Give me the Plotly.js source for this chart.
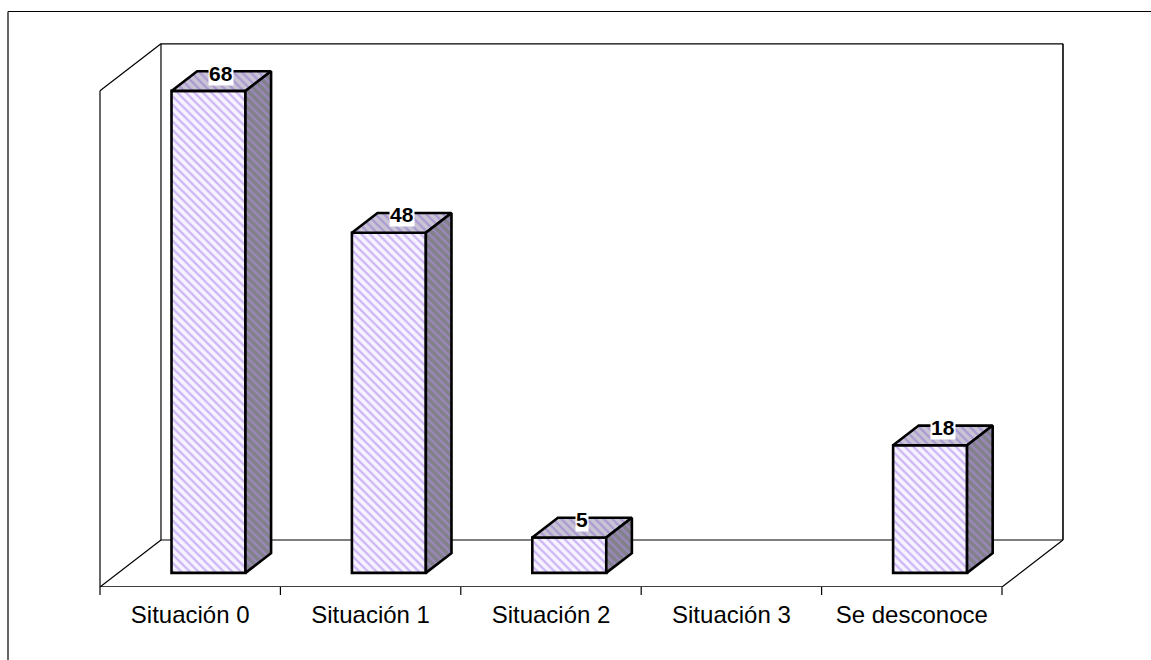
<!DOCTYPE html>
<html>
<head>
<meta charset="utf-8">
<script src="https://cdn.plot.ly/plotly-3.0.1.min.js"></script>
<style>
  html, body { margin: 0; padding: 0; background: #ffffff; }
  #chart { width: 1151px; height: 660px; }
</style>
</head>
<body>
<div id="chart"></div>
<script>
// ---- Data ----
const categories = ['Situación 0', 'Situación 1', 'Situación 2', 'Situación 3', 'Se desconoce'];
const values = [68, 48, 5, 0, 18];
const axisMax = 70;

// ---- 3D projection constants (in axis units) ----
const FLOOR_DX = 0.338;   // depth shift along x (category units)
const FLOOR_DY = 6.63;    // depth shift along y (value units)
const BAR_FRONT = 0.30;   // bar front position as fraction of floor depth
const BAR_BACK = 0.72;    // bar back position as fraction of floor depth
const BAR_W = 0.41;       // bar width (category units)

const frontShiftX = BAR_FRONT * FLOOR_DX;
const frontBase = BAR_FRONT * FLOOR_DY;
const barDX = (BAR_BACK - BAR_FRONT) * FLOOR_DX;
const barDY = (BAR_BACK - BAR_FRONT) * FLOOR_DY;

const idx = categories.map((c, i) => i);

// Front faces as a bar trace
const frontTrace = {
  type: 'bar',
  x: idx,
  y: values,
  base: values.map(() => frontBase),
  width: BAR_W,
  offset: frontShiftX - BAR_W / 2,
  marker: {
    color: '#f8f4ff',
    pattern: { shape: '\\', fgcolor: '#cdb6f6', bgcolor: '#f8f4ff', size: 6, solidity: 0.38, fillmode: 'replace' },
    line: { color: '#000000', width: values.map(v => v > 0 ? 2.6 : 0) }
  },
  hoverinfo: 'skip',
  showlegend: false
};

// Top and side faces as filled polygons
const topX = [], topY = [], sideX = [], sideY = [];
values.forEach((v, i) => {
  if (!(v > 0)) return;
  const x0 = i + frontShiftX - BAR_W / 2;
  const x1 = x0 + BAR_W;
  const y0 = frontBase;
  const y1 = frontBase + v;
  topX.push(x0, x1, x1 + barDX, x0 + barDX, x0, null);
  topY.push(y1, y1, y1 + barDY, y1 + barDY, y1, null);
  sideX.push(x1, x1 + barDX, x1 + barDX, x1, x1, null);
  sideY.push(y0, y0 + barDY, y1 + barDY, y1, y0, null);
});

const topTrace = {
  type: 'scatter', mode: 'lines', x: topX, y: topY, fill: 'toself',
  fillcolor: '#c9c5d4',
  fillpattern: { shape: '\\', fgcolor: '#ab9ad2', bgcolor: '#c9c5d4', size: 6, solidity: 0.38, fillmode: 'replace' },
  line: { color: '#000000', width: 2.6 },
  hoverinfo: 'skip', showlegend: false
};
const sideTrace = {
  type: 'scatter', mode: 'lines', x: sideX, y: sideY, fill: 'toself',
  fillcolor: '#828189',
  fillpattern: { shape: '\\', fgcolor: '#9a88bd', bgcolor: '#828189', size: 6, solidity: 0.38, fillmode: 'replace' },
  line: { color: '#000000', width: 2.6 },
  hoverinfo: 'skip', showlegend: false
};

// Walls & floor as shapes below traces
const L = -0.5, R = categories.length - 0.5;
const seg = (x0, y0, x1, y1, w) => ({
  type: 'line', xref: 'x', yref: 'y', x0, y0, x1, y1, layer: 'below',
  line: { color: '#000000', width: w || 1.2 }
});
const shapes = [
  // back wall
  seg(L + FLOOR_DX, FLOOR_DY, R + FLOOR_DX, FLOOR_DY),
  seg(L + FLOOR_DX, FLOOR_DY, L + FLOOR_DX, FLOOR_DY + axisMax),
  seg(L + FLOOR_DX, FLOOR_DY + axisMax, R + FLOOR_DX, FLOOR_DY + axisMax),
  seg(R + FLOOR_DX, FLOOR_DY, R + FLOOR_DX, FLOOR_DY + axisMax, 1.6),
  // side wall
  seg(L, 0, L, axisMax),
  seg(L, axisMax, L + FLOOR_DX, FLOOR_DY + axisMax),
  seg(L, 0, L + FLOOR_DX, FLOOR_DY),
  // floor
  seg(L, 0, R, 0, 1.6),
  seg(R, 0, R + FLOOR_DX, FLOOR_DY),
  // outer frame (top and left edge)
  { type: 'line', xref: 'paper', yref: 'paper', x0: 8 / 1151, x1: 1, y0: 1 - 11.5 / 587, y1: 1 - 11.5 / 587, line: { color: '#000', width: 1.2 } },
  { type: 'line', xref: 'paper', yref: 'paper', x0: 8 / 1151, x1: 8 / 1151, y0: 1 - 11.5 / 587, y1: -73 / 587, line: { color: '#000', width: 1.2 } }
];
// category boundary ticks below the floor's front edge
idx.concat([categories.length]).forEach(i => {
  shapes.push({
    type: 'line', xref: 'x', yref: 'paper', x0: i - 0.5, x1: i - 0.5, y0: 0, y1: -8 / 587,
    line: { color: '#000000', width: 1.2 }
  });
});

// Value labels
const annotations = [];
values.forEach((v, i) => {
  if (!(v > 0)) return;
  annotations.push({
    x: i + frontShiftX + barDX / 2,
    y: frontBase + v + barDY,
    xref: 'x', yref: 'y',
    text: '<b>' + v + '</b>',
    showarrow: false,
    xanchor: 'center', yanchor: 'middle', yshift: -2,
    bgcolor: '#ffffff', borderpad: 0,
    font: { family: 'Arial, "Liberation Sans", sans-serif', size: 21, color: '#000000' }
  });
});

const pxPerCat = 180.4;
const layout = {
  width: 1151, height: 660,
  margin: { l: 0, r: 0, t: 0, b: 73, pad: 0 },
  paper_bgcolor: '#ffffff', plot_bgcolor: 'rgba(0,0,0,0)',
  showlegend: false,
  barmode: 'overlay',
  xaxis: {
    type: 'linear',
    range: [-0.5 - 100 / pxPerCat, -0.5 + (1151 - 100) / pxPerCat],
    tickvals: idx,
    ticktext: categories,
    ticks: '', ticklen: 0,
    ticklabelstandoff: 11,
    tickfont: { family: 'Arial, "Liberation Sans", sans-serif', size: 24, color: '#000000' },
    showline: false, showgrid: false, zeroline: false, fixedrange: true
  },
  yaxis: {
    range: [0, 587 / 7.088],
    visible: false, showgrid: false, zeroline: false, fixedrange: true
  },
  shapes: shapes,
  annotations: annotations
};

Plotly.newPlot('chart', [frontTrace, topTrace, sideTrace], layout, { displayModeBar: false, staticPlot: true });
</script>
</body>
</html>
